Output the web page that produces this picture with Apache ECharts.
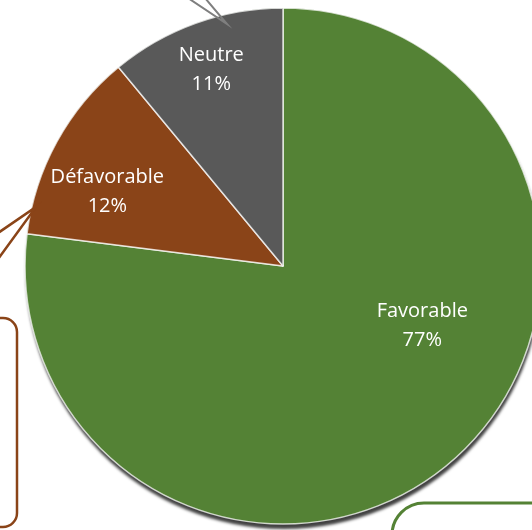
<!DOCTYPE html>
<html>
<head>
<meta charset="utf-8">
<script src="https://cdn.jsdelivr.net/npm/echarts@6/dist/echarts.min.js"></script>
<style>html,body{margin:0;padding:0;background:#fff}#c{width:532px;height:530px}</style>
</head>
<body>
<div id="c"></div>
<script>
const categories = ['Favorable', 'Défavorable', 'Neutre'];
const values = [77, 12, 11];
const colors = ['#548235', '#8a4418', '#595959'];
const labelOffsets = [[52, -39], [-60, -11], [-27, -72]];

const chart = echarts.init(document.getElementById('c'), null, {renderer: 'canvas'});
const center = [283, 266];
const radius = 258;

chart.setOption({
  animation: false,
  series: [
    {
      type: 'pie',
      silent: true,
      z: 1,
      center: center,
      radius: radius,
      startAngle: 90,
      label: {show: false},
      labelLine: {show: false},
      itemStyle: {
        color: '#3b5a26',
        shadowColor: 'rgba(0,0,0,0.75)',
        shadowBlur: 3,
        shadowOffsetX: 1,
        shadowOffsetY: 5
      },
      data: [{value: 1, name: ''}]
    },
    {
      type: 'pie',
      z: 2,
      center: center,
      radius: radius,
      startAngle: 90,
      clockwise: true,
      itemStyle: {
        borderColor: 'rgba(255,255,255,0.75)',
        borderWidth: 1.5
      },
      label: {
        show: true,
        position: 'inside',
        color: '#ffffff',
        fontFamily: 'Open Sans',
        fontSize: 20,
        fontWeight: 500,
        lineHeight: 29,
        align: 'center',
        verticalAlign: 'middle',
        formatter: p => p.name + '\n' + p.value + '%'
      },
      labelLine: {show: false},
      data: categories.map((n, i) => ({
        name: n,
        value: values[i],
        itemStyle: {color: colors[i]},
        label: {offset: labelOffsets[i]}
      }))
    }
  ],
  graphic: [
    {
      type: 'polyline', z: 10,
      shape: {points: [[188, -2], [227, 24], [205, -2]]},
      style: {stroke: '#7f7f7f', lineWidth: 2, fill: null}
    },
    {
      type: 'polyline', z: 10,
      shape: {points: [[-2, 233], [36, 207], [-2, 259]]},
      style: {stroke: '#8a4418', lineWidth: 2.5, fill: null}
    },
    {
      type: 'rect', z: 10,
      shape: {x: -40, y: 318, width: 57, height: 209, r: 14},
      style: {stroke: '#8a4418', lineWidth: 2.5, fill: null}
    },
    {
      type: 'rect', z: 10,
      shape: {x: 392, y: 503, width: 180, height: 80, r: 32},
      style: {stroke: '#548235', lineWidth: 3, fill: null}
    }
  ]
});
</script>
</body>
</html>
